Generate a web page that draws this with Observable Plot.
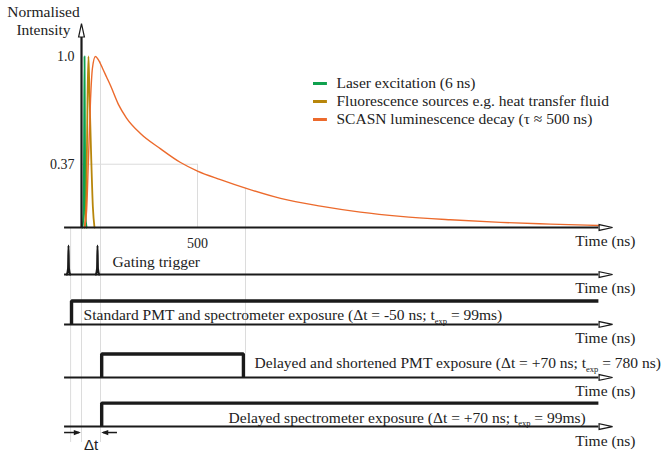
<!DOCTYPE html>
<html>
<head>
<meta charset="utf-8">
<script src="https://cdn.jsdelivr.net/npm/d3@7"></script>
<script src="https://cdn.jsdelivr.net/npm/@observablehq/plot@0.6"></script>
<style>
  body { margin: 0; background: #fff; }
  #chart svg { display: block; overflow: visible; }
</style>
</head>
<body>
<div id="chart"></div>
<script>
// ---------- DATA (time in ns, intensity normalised) ----------
// SCASN luminescence decay
const decayTime  = [13, 22, 30, 39, 47, 60, 73, 91, 108, 125, 159, 194, 254, 341, 427, 500, 599, 707, 858, 1030, 1202, 1375, 1590, 1806, 2021, 2230];
const decayValue = [0, 0.1, 0.4, 0.75, 0.93, 1.0, 0.98, 0.93, 0.88, 0.83, 0.72, 0.64, 0.55, 0.46, 0.38, 0.33, 0.28, 0.23, 0.17, 0.125, 0.09, 0.065, 0.045, 0.03, 0.02, 0.012];
// Laser excitation pulse (6 ns)
const laserTime  = [4, 9, 11, 13, 15, 17, 22];
const laserValue = [0, 0.08, 0.5, 1.0, 0.5, 0.08, 0];
// Fluorescence sources
const fluoTime  = [14, 21, 26, 30, 34, 41, 49, 56];
const fluoValue = [0, 0.2, 0.75, 1.0, 0.8, 0.45, 0.12, 0];

// Gating trigger pulses
const triggerPulse = ["first", "first", "first", "first", "first", "second", "second", "second", "second", "second"];
const triggerTime  = [-63, -58, -56, -54, -49, 62, 67, 69, 71, 76];
const triggerLevel = [0, 0.2, 1, 0.2, 0, 0, 0.2, 1, 0.2, 0];

// Exposure windows (level 0 = closed, 1 = open)
const standardTime  = [-43, -43, 2228];
const standardLevel = [0, 1, 1];
const pmtTime  = [87, 87, 698, 698];
const pmtLevel = [0, 1, 1, 0];
const spectroTime  = [87, 87, 2228];
const spectroLevel = [0, 1, 1];

// Reference lines
const gridTime = [-47, 0, 82, 500, 707];
const gridTop  = [0, 0, 0.97, 0.37, 0.23];

// Tick labels
const yTicks = [1.0, 0.37];
const yTickLabels = ["1.0", "0.37"];
const xTicks = [500];

// Legend
const legendLabels = ["Laser excitation (6 ns)", "Fluorescence sources e.g. heat transfer fluid", "SCASN luminescence decay (\u03C4 \u2248 500 ns)"];
const legendColors = ["#0fa14e", "#b8860b", "#ec6a2c"];

// Lanes
const laneLabels = [
  "Gating trigger",
  "Standard PMT and spectrometer exposure (\u0394t = -50 ns; t_exp = 99ms)",
  "Delayed and shortened PMT exposure (\u0394t = +70 ns; t_exp = 780 ns)",
  "Delayed spectrometer exposure (\u0394t = +70 ns; t_exp = 99ms)"
];

// ---------- LAYOUT ----------
const laneBase = [-0.275, -0.567, -0.877, -1.164];   // lane baselines in intensity units
const laneHigh = 0.137;
const triggerHigh = 0.17;
const laneLabelTime = [134, 9, 746, 634];
const laneLabelDy = [-12, -9, -14, -9];
const gridBottom = -1.257;
const dtArrowY = -1.199, dtLabelY = -1.275;
const axisStart = -73, axisEnd = 2230, arrowCenter = 2259, timeLabelAt = 2388;

const ink = "#1a1a1a";
const grid = "#dcdcdc";
const textInk = "#222";
const FONT = "'Liberation Serif', 'Times New Roman', serif";
const FS = 15.5;

const arrowRight = { draw(ctx) { ctx.moveTo(7, 0); ctx.lineTo(-6.5, -2.9); ctx.lineTo(-6.5, 2.9); ctx.closePath(); } };
const tipRight = { draw(ctx) { ctx.moveTo(0, 0); ctx.lineTo(-7, -2.6); ctx.lineTo(-7, 2.6); ctx.closePath(); } };

const axisLevels = [0, ...laneBase];
const gridBottoms = gridTime.map((t, i) => i === 4 ? laneBase[2] + laneHigh : (i === 3 ? 0 : gridBottom));
const stepStyle = { stroke: ink, strokeWidth: 3.4, strokeLinejoin: "miter", strokeLinecap: "butt" };

const marks = [
  // gridlines
  Plot.ruleY([yTicks[1]], { x1: 0, x2: xTicks[0], stroke: grid, strokeWidth: 1 }),
  Plot.ruleX(gridTime, { x: gridTime, y1: gridTop, y2: gridBottoms, stroke: grid, strokeWidth: 1 }),
  // Δt arrows
  Plot.ruleY([dtArrowY], { x1: axisStart, x2: -8, stroke: ink, strokeWidth: 1.5 }),
  Plot.ruleY([dtArrowY], { x1: 155, x2: 95, stroke: ink, strokeWidth: 1.5 }),
  Plot.dot([0], { x: [-3], y: [dtArrowY], symbol: tipRight, fill: ink, stroke: "none" }),
  Plot.dot([0], { x: [85], y: [dtArrowY], symbol: tipRight, rotate: 180, fill: ink, stroke: "none" }),
  // curves
  Plot.line(laserTime, { x: laserTime, y: laserValue, stroke: legendColors[0], strokeWidth: 1.8, curve: "monotone-x" }),
  Plot.line(fluoTime, { x: fluoTime, y: fluoValue, stroke: legendColors[1], strokeWidth: 1.8, curve: "monotone-x" }),
  Plot.line(decayTime, { x: decayTime, y: decayValue, stroke: legendColors[2], strokeWidth: 1.4, curve: "monotone-x" }),
  // axes
  Plot.ruleY(axisLevels, { x1: axisStart, x2: axisEnd, y: axisLevels, stroke: ink, strokeWidth: 2 }),
  Plot.dot(axisLevels, { x: arrowCenter, y: axisLevels, symbol: arrowRight, fill: "white", stroke: ink, strokeWidth: 1.2 }),
  Plot.ruleX([0], { x: 0, y1: 0, y2: 1.117, stroke: ink, strokeWidth: 2.2 }),
  Plot.dot([0], { x: 0, y: 1.152, symbol: arrowRight, rotate: -90, fill: "white", stroke: ink, strokeWidth: 1.2 }),
  // gating trigger
  Plot.line(triggerTime, { x: triggerTime, y: triggerLevel.map(l => laneBase[0] + l * triggerHigh), z: triggerPulse, stroke: ink, strokeWidth: 2, curve: "monotone-x" }),
  // exposures
  Plot.line(standardTime, { x: standardTime, y: standardLevel.map(l => laneBase[1] + l * laneHigh), ...stepStyle }),
  Plot.line(pmtTime, { x: pmtTime, y: pmtLevel.map(l => laneBase[2] + l * laneHigh), ...stepStyle }),
  Plot.line(spectroTime, { x: spectroTime, y: spectroLevel.map(l => laneBase[3] + l * laneHigh), ...stepStyle }),
  // tick labels
  Plot.text(yTicks, { x: 0, y: yTicks, text: yTickLabels, textAnchor: "end", dx: -7, fontSize: 14, fill: textInk }),
  Plot.text(xTicks, { x: xTicks, y: 0, text: d => String(d), dy: 16, fontSize: 14, fill: textInk }),
  // time labels
  Plot.text(axisLevels, { x: timeLabelAt, y: axisLevels, text: () => "Time (ns)", textAnchor: "end", dy: 14, fontSize: FS, fill: textInk }),
  // lane labels
  ...laneLabels.map((label, i) => Plot.text([label], { x: laneLabelTime[i], y: laneBase[i], dy: laneLabelDy[i], textAnchor: "start", fontSize: FS, fill: textInk })),
  // Δt label
  Plot.text(["\u0394t"], { x: [41], y: [dtLabelY], text: d => d, fontSize: 15, fill: textInk, fontFamily: "'Liberation Sans', Arial, sans-serif" }),
  // y axis title
  Plot.text(["Normalised\nIntensity"], { frameAnchor: "top-left", dx: 43, dy: 20, lineAnchor: "middle", lineHeight: 1.13, textAnchor: "middle", fontSize: FS, fill: textInk }),
  // legend
  ...legendLabels.map((label, i) => Plot.text([label], { frameAnchor: "top-left", dx: 336, dy: 83 + 18 * i, lineAnchor: "middle", textAnchor: "start", fontSize: FS, fill: textInk })),
  ...legendColors.map((c, i) => Plot.ruleY([0], { x1: 1000, x2: 1060, dy: 83 + 18 * i - 227, stroke: c, strokeWidth: 3 }))
];

const chart = Plot.plot({
  width: 662,
  height: 454,
  margin: 0,
  x: { domain: [0, 500], range: [81, 197], axis: null },
  y: { domain: [0, 1], range: [227, 56], axis: null },
  style: { fontFamily: FONT, fontSize: "15px", color: textInk, background: "white", overflow: "visible" },
  marks
});

// subscripts "exp"
d3.select(chart).selectAll("text").each(function () {
  const s = this.textContent;
  if (s.includes("t_exp")) {
    const [a, b] = s.split("t_exp");
    const el = d3.select(this);
    el.text(null);
    el.append("tspan").text(a + "t");
    el.append("tspan").attr("font-size", 8.5).attr("dy", 4).text("exp");
    el.append("tspan").attr("dy", -4).text(b);
  }
});

document.getElementById("chart").appendChild(chart);
</script>
</body>
</html>
